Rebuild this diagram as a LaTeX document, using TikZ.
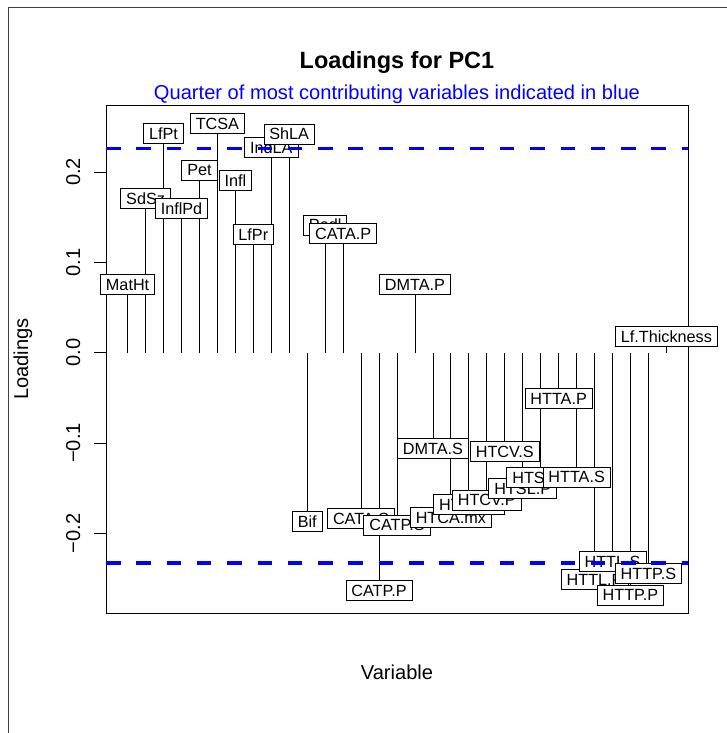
\documentclass[tikz,border=0pt]{standalone}
\usepackage{fontspec}
\setmainfont{Liberation Sans}
\pgfdeclarelayer{background}
\pgfsetlayers{background,main}
\begin{document}
\begin{tikzpicture}[x=1pt,y=-1pt,
  lab/.style={draw=black, line width=0.8pt, fill=white, inner xsep=5.5pt, inner ysep=0pt,
    minimum height=20pt, text height=11.7pt, text depth=0pt, font=\fontsize{16.2}{18}\selectfont},
  stem/.style={line width=0.8pt, black},
  frameline/.style={line width=1pt, black!75},
  quart/.style={blue, line width=3.2pt, dash pattern=on 14.5pt off 15.8pt},
  ticklab/.style={rotate=90, anchor=base, font=\fontsize{20.1}{24}\selectfont},
  axlab/.style={anchor=base, font=\fontsize{20.1}{24}\selectfont}]
\useasboundingbox (0,0) rectangle (727,733);
% outer frame (cut)
\draw[frameline] (8,733) -- (8,8) -- (727,8);
% labels
\foreach \i/\yy/\t in {1/284.3/MatHt, 2/198.7/SdSz, 3/133.3/LfPt, 4/208.8/InflPd, 5/170/Pet,
  6/123.3/TCSA, 7/180.7/Infl, 8/234.7/LfPr, 9/147.3/IndLA, 10/134/ShLA, 11/521.3/Bif,
  12/225/Pedl, 13/233.3/CATA.P, 14/518.3/CATA.S, 15/590.3/CATP.P, 16/525/CATP.S,
  17/284.5/DMTA.P, 18/448.7/DMTA.S, 19/517.7/HTCA.mx, 20/504.3/HTCA.S, 21/500/HTCV.P,
  22/451.7/HTCV.S, 23/488.3/HTSL.P, 24/477.3/HTSL.S, 25/398.4/HTTA.P, 26/477/HTTA.S,
  27/579.3/HTTL.P, 28/561.7/HTTL.S, 29/595/HTTP.P, 30/573.7/HTTP.S, 31/336.7/Lf.Thickness}{
  \coordinate (z\i) at ({127.6+(\i-1)*17.96},352.7);
  \node[lab] (l\i) at ({127.6+(\i-1)*17.96},\yy) {\t};
}
\begin{pgfonlayer}{background}
  \draw[line width=0.9pt] (106,105) rectangle (688,613);
  \foreach \i in {1,...,31} \draw[stem] (z\i) -- (l\i.center);
\end{pgfonlayer}
% quartile lines
\coordinate (qa) at (106,148.5); \coordinate (qb) at (688,148.5);
\coordinate (qc) at (106,563); \coordinate (qd) at (688,563);
\draw[quart] (qa) -- (qb);
\draw[quart] (qc) -- (qd);
% y axis
\foreach \v/\t in {0.2/0.2, 0.1/0.1, 0/0.0, -0.1/−0.1, -0.2/−0.2}{
  \draw[line width=0.8pt] (94,{352.7-903.5*\v}) -- (106,{352.7-903.5*\v});
  \node[ticklab] at (80,{352.7-903.5*\v}) {\t};
}
\node[rotate=90, anchor=base, font=\fontsize{20.1}{24}\selectfont] (ylab) at (28,359) {Loadings};
\node[axlab] (xlab) at (397,679) {Variable};
\node[anchor=base, font=\bfseries\fontsize{23.5}{28}\selectfont] (title) at (397,68.5) {Loadings for PC1};
\node[anchor=base, text=blue, font=\fontsize{20.1}{24}\selectfont] (sub) at (397,100) {Quarter of most contributing variables indicated in blue};
\end{tikzpicture}
\end{document}
